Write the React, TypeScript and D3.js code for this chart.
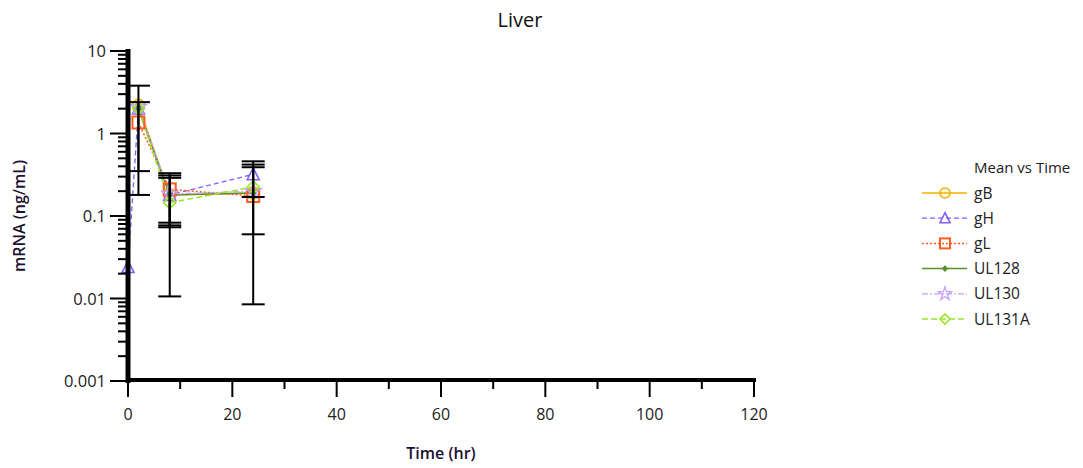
import React from "react";
import * as d3 from "d3";

// sample times (hr)
const times = [0, 2, 8, 24];

// mean values per series, null = not plotted
const seriesNames = ["gB", "gH", "gL", "UL128", "UL130", "UL131A"];
const gB = [null, 2.2, 0.18, 0.19];
const gH = [0.024, 2.0, 0.18, 0.32];
const gL = [null, 1.36, 0.21, 0.175];
const UL128 = [null, 2.0, 0.18, 0.19];
const UL130 = [null, 2.1, 0.185, 0.2];
const UL131A = [null, 2.0, 0.145, 0.225];

// error bar ends
const gBUp = [null, 3.8, 0.33, 0.42];
const gBLow = [null, 0.35, 0.0106, 0.06];
const gHUp = [null, null, 0.31, 0.46];
const gHLow = [null, null, 0.083, 0.17];
const gLUp = [null, 2.4, null, null];
const gLLow = [null, 0.18, null, null];
const UL128Up = [null, null, 0.29, null];
const UL128Low = [null, null, 0.077, null];
const UL130Up = [null, null, null, null];
const UL130Low = [null, null, null, null];
const UL131AUp = [null, null, null, 0.39];
const UL131ALow = [null, null, 0.073, 0.0085];

const xTicks = [0, 20, 40, 60, 80, 100, 120];
const xMinor = [10, 30, 50, 70, 90, 110];
const yTicks = [0.001, 0.01, 0.1, 1, 10];
const yTickLabels = ["0.001", "0.01", "0.1", "1", "10"];

const FONT = "'Open Sans', 'DejaVu Sans', sans-serif";

type Style = { color: string; dash: string; marker: string; width: number };
const styles: Style[] = [
  { color: "#f5b000", dash: "", marker: "circle", width: 1.5 },
  { color: "#7f5fff", dash: "5,3", marker: "triangle", width: 1.3 },
  { color: "#ff5a1f", dash: "2,2", marker: "square", width: 1.5 },
  { color: "#5a8f29", dash: "", marker: "smalldiamond", width: 1.5 },
  { color: "#c4a0ff", dash: "6,2,2,2", marker: "star", width: 1.3 },
  { color: "#99e62a", dash: "6,3", marker: "diamond", width: 1.5 },
];

const values = [gB, gH, gL, UL128, UL130, UL131A];
const ups = [gBUp, gHUp, gLUp, UL128Up, UL130Up, UL131AUp];
const lows = [gBLow, gHLow, gLLow, UL128Low, UL130Low, UL131ALow];

function Marker({ kind, x, y, color, s }: { kind: string; x: number; y: number; color: string; s: number }) {
  const common = { fill: "none", stroke: color, strokeWidth: 1.6 };
  if (kind === "circle") return <circle cx={x} cy={y} r={s / 2} {...common} />;
  if (kind === "square")
    return <rect x={x - s / 2} y={y - s / 2} width={s} height={s} {...common} strokeWidth={2} />;
  if (kind === "triangle") {
    const h = s * 0.9;
    return (
      <path
        d={`M${x},${y - h / 2 - 1}L${x + s / 2},${y + h / 2}L${x - s / 2},${y + h / 2}Z`}
        {...common}
      />
    );
  }
  if (kind === "diamond") {
    const r = s / 2;
    return <path d={`M${x},${y - r}L${x + r},${y}L${x},${y + r}L${x - r},${y}Z`} {...common} />;
  }
  if (kind === "smalldiamond") {
    const r = s / 4;
    return (
      <path
        d={`M${x},${y - r}L${x + r},${y}L${x},${y + r}L${x - r},${y}Z`}
        fill={color}
        stroke={color}
        strokeWidth={1.2}
      />
    );
  }
  const star = d3.symbol(d3.symbolStar, s * s * 0.55)()!;
  return <path d={star} transform={`translate(${x},${y})`} {...common} strokeWidth={1.3} />;
}

export default function App() {
  const x = d3.scaleLinear().domain([0, 120]).range([128, 754]);
  const y = d3.scaleLog().domain([0.001, 10]).range([381, 51]);

  const line = d3
    .line<{ t: number; v: number | null }>()
    .defined((d) => d.v != null)
    .x((d) => x(d.t))
    .y((d) => y(d.v as number));

  const minorY: number[] = [];
  for (let e = -3; e < 1; e++) {
    for (let k = 2; k <= 9; k++) minorY.push(k * Math.pow(10, e));
  }

  const cap = 11.5;

  return (
    <svg
      width={1083}
      height={468}
      style={{ position: "absolute", left: 0, top: 0, background: "#fff" }}
      fontFamily={FONT}
    >
      <text x={520} y={27} textAnchor="middle" fontSize={20} fill="#111">
        Liver
      </text>

      {/* series lines */}
      {values.map((vals, i) => (
        <path
          key={"l" + i}
          d={line(times.map((t, j) => ({ t, v: vals[j] })))!}
          fill="none"
          stroke={styles[i].color}
          strokeWidth={styles[i].width}
          strokeDasharray={styles[i].dash}
        />
      ))}

      {/* markers */}
      {values.map((vals, i) =>
        times.map((t, j) =>
          vals[j] == null ? null : (
            <Marker key={`m${i}-${j}`} kind={styles[i].marker} x={x(t)} y={y(vals[j] as number)} color={styles[i].color} s={12} />
          )
        )
      )}

      {/* error bars */}
      {values.map((vals, i) =>
        times.map((t, j) => {
          const u = ups[i][j];
          const l = lows[i][j];
          const m = vals[j];
          if (m == null || (u == null && l == null)) return null;
          const top = y((u ?? m) as number);
          const bot = y((l ?? m) as number);
          const cx = x(t);
          return (
            <g key={`e${i}-${j}`} stroke="#000" strokeWidth={2}>
              <line x1={cx} x2={cx} y1={top} y2={bot} />
              {u != null && <line x1={cx - cap} x2={cx + cap} y1={top} y2={top} />}
              {l != null && <line x1={cx - cap} x2={cx + cap} y1={bot} y2={bot} />}
            </g>
          );
        })
      )}

      {/* y axis */}
      <line x1={128} x2={128} y1={49} y2={383} stroke="#000" strokeWidth={5} />
      {yTicks.map((v, i) => (
        <g key={"yt" + i}>
          <line x1={110} x2={128} y1={y(v)} y2={y(v)} stroke="#000" strokeWidth={2} />
          <text x={106} y={y(v) + 6} textAnchor="end" fontSize={16.5} fill="#222">
            {yTickLabels[i]}
          </text>
        </g>
      ))}
      {minorY.map((v, i) => (
        <line key={"ym" + i} x1={118} x2={128} y1={y(v)} y2={y(v)} stroke="#000" strokeWidth={2} />
      ))}

      {/* x axis */}
      <line x1={126} x2={756} y1={380} y2={380} stroke="#000" strokeWidth={4} />
      {xTicks.map((v, i) => (
        <g key={"xt" + i}>
          <line x1={x(v)} x2={x(v)} y1={380} y2={397} stroke="#000" strokeWidth={2} />
          <text x={x(v)} y={420} textAnchor="middle" fontSize={16} fill="#222">
            {v}
          </text>
        </g>
      ))}
      {xMinor.map((v, i) => (
        <line key={"xm" + i} x1={x(v)} x2={x(v)} y1={380} y2={389} stroke="#000" strokeWidth={2} />
      ))}

      {/* axis titles */}
      <text x={441} y={459} textAnchor="middle" fontSize={16} fontWeight={600} fill="#1a1030">
        Time (hr)
      </text>
      <text
        transform={`translate(25,216) rotate(-90)`}
        textAnchor="middle"
        fontSize={16}
        fontWeight={600}
        fill="#1a1030"
      >
        mRNA (ng/mL)
      </text>

      {/* legend */}
      <text x={974} y={173} fontSize={15} fill="#222">
        Mean vs Time
      </text>
      {seriesNames.map((name, i) => {
        const ly = 193 + i * 25.2;
        return (
          <g key={"lg" + i}>
            <line
              x1={922}
              x2={967}
              y1={ly}
              y2={ly}
              stroke={styles[i].color}
              strokeWidth={styles[i].width}
              strokeDasharray={styles[i].dash}
            />
            <Marker kind={styles[i].marker} x={945} y={ly} color={styles[i].color} s={10} />
            <text x={974} y={ly + 5.5} fontSize={15.5} fill="#222">
              {name}
            </text>
          </g>
        );
      })}
    </svg>
  );
}
